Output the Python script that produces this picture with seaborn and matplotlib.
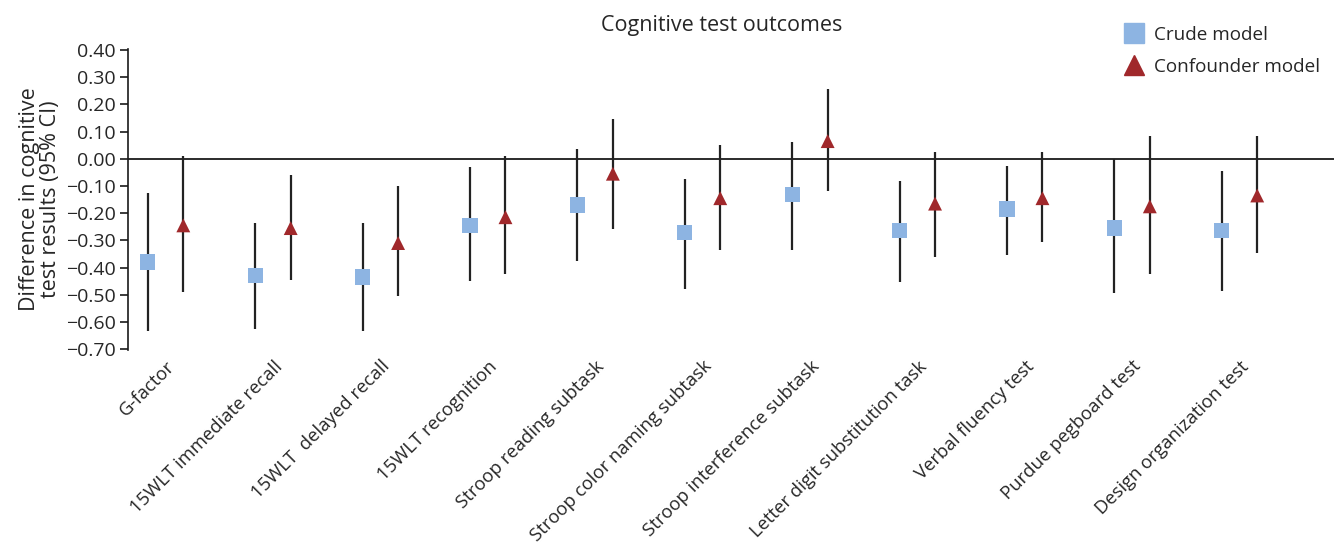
import matplotlib
matplotlib.use("Agg")
import matplotlib.pyplot as plt
import seaborn as sns
import pandas as pd
import numpy as np
from matplotlib.lines import Line2D

categories = ["G-factor", "15WLT immediate recall", "15WLT  delayed recall",
              "15WLT recognition", "Stroop reading subtask",
              "Stroop color naming subtask", "Stroop interference subtask",
              "Letter digit substitution task", "Verbal fluency test",
              "Purdue pegboard test", "Design organization test"]

crude_est = [-0.38, -0.43, -0.435, -0.245, -0.17, -0.27, -0.13, -0.265, -0.185, -0.255, -0.265]
crude_lo = [-0.635, -0.625, -0.635, -0.45, -0.375, -0.48, -0.335, -0.455, -0.355, -0.495, -0.485]
crude_hi = [-0.125, -0.235, -0.235, -0.03, 0.035, -0.075, 0.06, -0.08, -0.025, 0.0, -0.045]

conf_est = [-0.245, -0.255, -0.31, -0.215, -0.055, -0.145, 0.065, -0.165, -0.145, -0.175, -0.135]
conf_lo = [-0.49, -0.445, -0.505, -0.425, -0.26, -0.335, -0.12, -0.36, -0.305, -0.425, -0.345]
conf_hi = [0.01, -0.06, -0.1, 0.01, 0.145, 0.05, 0.255, 0.025, 0.025, 0.085, 0.085]

models = ["Crude model", "Confounder model"]
yticks = [0.40, 0.30, 0.20, 0.10, 0.00, -0.10, -0.20, -0.30, -0.40, -0.50, -0.60, -0.70]

sns.set_theme(style="white")
plt.rcParams['font.family'] = ['Open Sans', 'DejaVu Sans']

blue = "#8DB4E2"
red = "#A0282B"
dodge = 0.165

n = len(categories)
idx = np.arange(n)
df = pd.concat([
    pd.DataFrame({"cat": idx, "x": idx - dodge, "est": crude_est, "lo": crude_lo,
                  "hi": crude_hi, "model": models[0]}),
    pd.DataFrame({"cat": idx, "x": idx + dodge, "est": conf_est, "lo": conf_lo,
                  "hi": conf_hi, "model": models[1]}),
], ignore_index=True)

fig = plt.figure(figsize=(13.34, 5.47), dpi=100)
ax = fig.add_axes([128/1334, 1 - 350.4/547, 1 - 128/1334, 301.7/547])

ax.axhline(0, color="#1a1a1a", lw=1.3, zorder=1)
ax.vlines(df["x"], df["lo"], df["hi"], color="#222222", lw=1.6, zorder=2)

sns.scatterplot(data=df, x="x", y="est", hue="model", style="model",
                palette={models[0]: blue, models[1]: red},
                markers={models[0]: "s", models[1]: "^"},
                size="model", sizes={models[0]: 120, models[1]: 100},
                linewidth=0, legend=False, zorder=3, ax=ax)

ax.set_xlim(-0.35, n - 0.12)
ax.set_ylim(-0.705, 0.405)
ax.set_yticks(yticks)
ax.set_yticklabels([f"{v:.2f}".replace("-", "\u2212") for v in yticks], fontsize=14)
ax.set_xticks(idx)
ax.set_xticklabels(categories, rotation=45, ha="right", rotation_mode="anchor",
                   fontsize=13.3)
ax.tick_params(axis="x", length=0, pad=5)
ax.tick_params(axis="y", left=True, length=6, width=1.2, color="#1a1a1a", pad=3)
for s in ["top", "right", "bottom"]:
    ax.spines[s].set_visible(False)
ax.spines["left"].set_color("#1a1a1a")
ax.spines["left"].set_linewidth(1.2)
ax.set_xlabel("")
ax.set_ylabel("Difference in cognitive\ntest results (95% CI)", fontsize=15.5,
              linespacing=1.05, labelpad=3)
ax.grid(False)

fig.text(722/1334, 1 - 26/547, "Cognitive test outcomes", ha="center", va="center",
         fontsize=15.5)

handles = [Line2D([], [], marker="s", ls="", color=blue, markersize=15),
           Line2D([], [], marker="^", ls="", color=red, markersize=14)]
fig.legend(handles, models, loc="upper left", bbox_to_anchor=(1112/1334, 1 - 18/547),
           frameon=False, fontsize=13.6, handletextpad=0.35, labelspacing=0.75,
           borderaxespad=0, handlelength=1.5)

fig.savefig("out.png", dpi=100)
